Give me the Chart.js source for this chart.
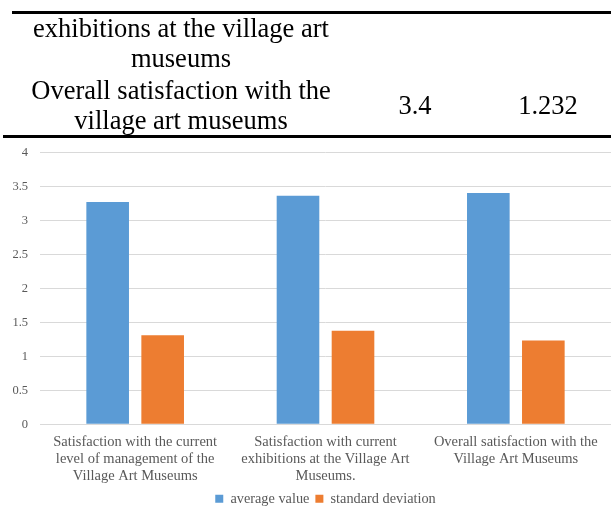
<!DOCTYPE html>
<html>
<head>
<meta charset="utf-8">
<script src="https://cdn.jsdelivr.net/npm/chart.js@4.4.1/dist/chart.umd.min.js"></script>
<style>
  html, body { margin: 0; padding: 0; background: #ffffff; }
  body { width: 611px; height: 506px; position: relative; overflow: hidden; }
  #c { position: absolute; left: 0; top: 0; }
</style>
</head>
<body>
<canvas id="c" width="611" height="516"></canvas>
<script>
// Table fragment shown above the chart
const tableLabelLines = ["exhibitions at the village art", "museums", "Overall satisfaction with the", "village art museums"];
const tableMean = "3.4";
const tableSD = "1.232";

// Chart data
const categories = [
  ["Satisfaction with the current", "level of management of the", "Village Art Museums"],
  ["Satisfaction with current", "exhibitions at the Village Art", "Museums."],
  ["Overall satisfaction with the", "Village Art Museums"]
];
const seriesNames = ["average value", "standard deviation"];
const averageValue = [3.27, 3.36, 3.4];
const standardDeviation = [1.31, 1.374, 1.232];
const yTicks = [0, 0.5, 1, 1.5, 2, 2.5, 3, 3.5, 4];

const FONT = "Liberation Serif";
const GREY = "#595959";
Chart.defaults.font.family = FONT;

const tableHeader = {
  id: "tableHeader",
  beforeDraw(chart) {
    const ctx = chart.ctx;
    ctx.save();
    ctx.fillStyle = "#000";
    ctx.fillRect(12, 11, 599, 3);
    ctx.fillRect(3, 135, 608, 3);
    ctx.font = "26.5px 'Liberation Serif'";
    ctx.textAlign = "center";
    ctx.textBaseline = "middle";
    const ys = [30, 60, 92, 122];
    tableLabelLines.forEach((t, i) => ctx.fillText(t, 181, ys[i]));
    ctx.fillText(tableMean, 415, 107);
    ctx.fillText(tableSD, 548, 107);
    ctx.restore();
  }
};

new Chart(document.getElementById("c"), {
  type: "bar",
  data: {
    labels: categories,
    datasets: [
      { label: seriesNames[0], data: averageValue, backgroundColor: "#5B9BD5", borderWidth: 0, barPercentage: 0.775, categoryPercentage: 0.578 },
      { label: seriesNames[1], data: standardDeviation, backgroundColor: "#ED7D31", borderWidth: 0, barPercentage: 0.775, categoryPercentage: 0.578 }
    ]
  },
  options: {
    responsive: false,
    devicePixelRatio: 1,
    animation: false,
    layout: { padding: { top: 152.3, right: 0, left: 0, bottom: 0 } },
    plugins: {
      tooltip: { enabled: false },
      legend: {
        position: "bottom",
        fullSize: false,
        labels: {
          boxWidth: 8, boxHeight: 8, padding: 6,
          color: GREY,
          font: { family: FONT, size: 14.3 }
        }
      }
    },
    scales: {
      y: {
        min: 0, max: 4,
        afterBuildTicks: (s) => { s.ticks = yTicks.map(v => ({ value: v })); },
        afterFit: (s) => { s.width = 40; },
        ticks: { color: GREY, font: { family: FONT, size: 12.5 }, padding: 12, callback: (v) => String(v) },
        grid: { color: "#D9D9D9", lineWidth: 1, drawTicks: false },
        border: { display: false }
      },
      x: {
        afterFit: (s) => { s.height = 61.4; },
        ticks: { color: GREY, font: { family: FONT, size: 14.5, lineHeight: 1.15 }, padding: 10, maxRotation: 0, autoSkip: false },
        grid: { display: false, drawTicks: false },
        border: { display: true, color: "#D9D9D9" }
      }
    }
  },
  plugins: [tableHeader]
});
</script>
</body>
</html>
